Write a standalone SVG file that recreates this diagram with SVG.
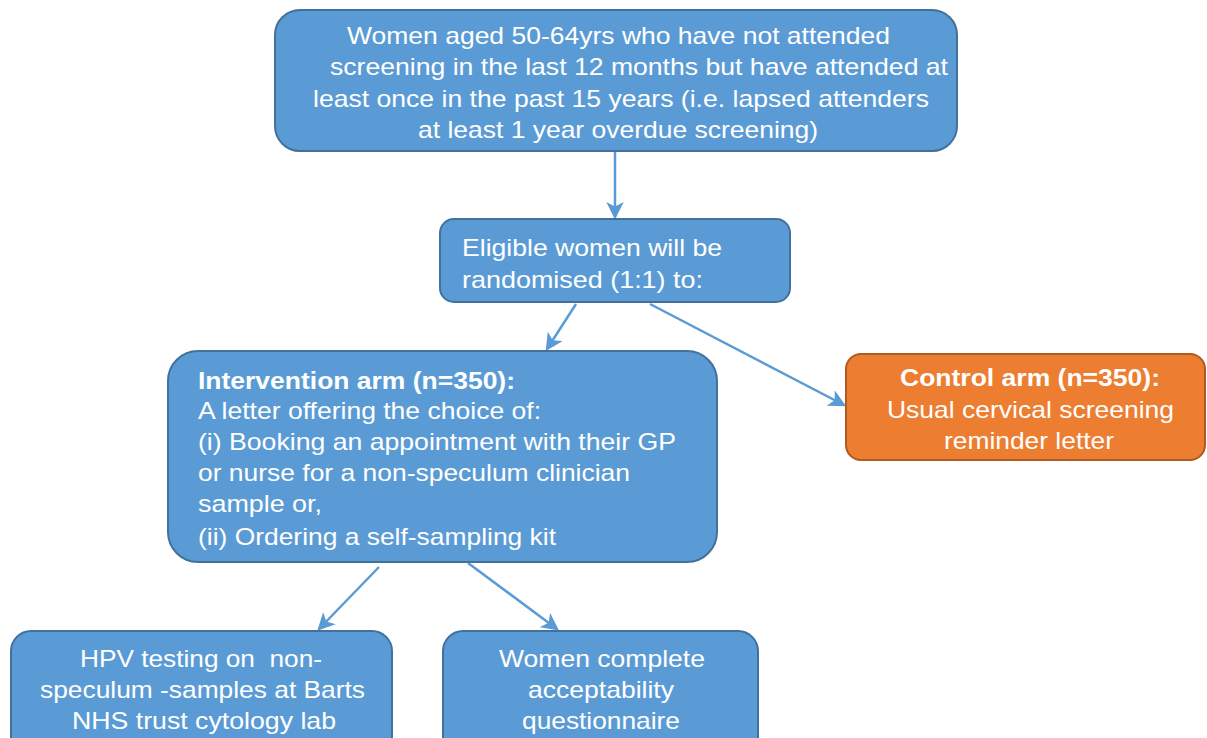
<svg xmlns="http://www.w3.org/2000/svg" width="1207" height="738" viewBox="0 0 1207 738">
<style>
.b{fill:#5b9bd5;stroke:#41719c;stroke-width:2}
.o{fill:#ed7d31;stroke:#ae5a21;stroke-width:2}
text{font-family:"Liberation Sans",Arial,sans-serif;font-size:24px;fill:#fff}
.bold{font-weight:bold}
.c{stroke:#5b9bd5;stroke-width:2.5;fill:none;marker-end:url(#ah)}
</style>
<defs>
<marker id="ah" markerWidth="7" markerHeight="7" refX="6" refY="3.5" orient="auto" markerUnits="strokeWidth">
<path d="M0,0 L7,3.5 L0,7 L1.8,3.5 Z" fill="#5b9bd5"/>
</marker>
</defs>
<rect width="1207" height="738" fill="#fff"/>
<g id="connectors">
<line class="c" x1="615" y1="152" x2="615" y2="217"/>
<line class="c" x1="576" y1="304" x2="547" y2="349"/>
<line class="c" x1="650" y1="304" x2="844" y2="405"/>
<line class="c" x1="379" y1="567" x2="319" y2="629"/>
<line class="c" x1="468" y1="563" x2="557" y2="629"/>
</g>
<g id="n1">
<rect class="b" x="275" y="10" width="682" height="141" rx="25"/>
<text x="347" y="44" textLength="543" lengthAdjust="spacingAndGlyphs">Women aged 50-64yrs who have not attended</text>
<text x="330" y="75" textLength="618" lengthAdjust="spacingAndGlyphs">screening in the last 12 months but have attended at</text>
<text x="313" y="107" textLength="616" lengthAdjust="spacingAndGlyphs">least once in the past 15 years (i.e. lapsed attenders</text>
<text x="418" y="138" textLength="400" lengthAdjust="spacingAndGlyphs">at least 1 year overdue screening)</text>
</g>
<g id="n2">
<rect class="b" x="440" y="219" width="350" height="83" rx="14"/>
<text x="462" y="256" textLength="260" lengthAdjust="spacingAndGlyphs">Eligible women will be</text>
<text x="462" y="288" textLength="241" lengthAdjust="spacingAndGlyphs">randomised (1:1) to:</text>
</g>
<g id="n3">
<rect class="b" x="168" y="351" width="549" height="211" rx="30"/>
<text class="bold" x="198" y="389" textLength="317" lengthAdjust="spacingAndGlyphs">Intervention arm (n=350):</text>
<text x="198" y="419" textLength="343" lengthAdjust="spacingAndGlyphs">A letter offering the choice of:</text>
<text x="198" y="450" textLength="478" lengthAdjust="spacingAndGlyphs">(i) Booking an appointment with their GP</text>
<text x="198" y="481" textLength="432" lengthAdjust="spacingAndGlyphs">or nurse for a non-speculum clinician</text>
<text x="198" y="512" textLength="124" lengthAdjust="spacingAndGlyphs">sample or,</text>
<text x="198" y="545" textLength="358" lengthAdjust="spacingAndGlyphs">(ii) Ordering a self-sampling kit</text>
</g>
<g id="n4">
<rect class="o" x="846" y="354" width="359" height="106" rx="15"/>
<text class="bold" x="900" y="386" textLength="260" lengthAdjust="spacingAndGlyphs">Control arm (n=350):</text>
<text x="887" y="418" textLength="287" lengthAdjust="spacingAndGlyphs">Usual cervical screening</text>
<text x="944" y="449" textLength="170" lengthAdjust="spacingAndGlyphs">reminder letter</text>
</g>
<g id="n5">
<rect class="b" x="11" y="631" width="381" height="130" rx="20"/>
<text x="80" y="667" textLength="242" lengthAdjust="spacingAndGlyphs" xml:space="preserve" style="white-space:pre">HPV testing on  non-</text>
<text x="40" y="698" textLength="325" lengthAdjust="spacingAndGlyphs">speculum -samples at Barts</text>
<text x="72" y="729" textLength="264" lengthAdjust="spacingAndGlyphs">NHS trust cytology lab</text>
</g>
<g id="n6">
<rect class="b" x="443" y="631" width="315" height="130" rx="20"/>
<text x="499" y="667" textLength="206" lengthAdjust="spacingAndGlyphs">Women complete</text>
<text x="528" y="698" textLength="146" lengthAdjust="spacingAndGlyphs">acceptability</text>
<text x="522" y="729" textLength="158" lengthAdjust="spacingAndGlyphs">questionnaire</text>
</g>
</svg>
